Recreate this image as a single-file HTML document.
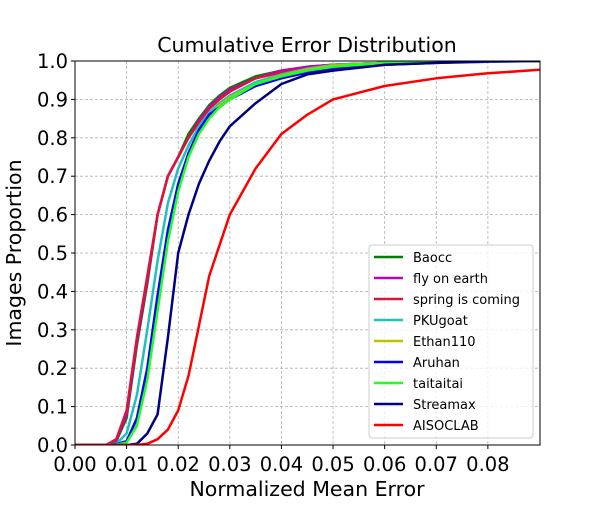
<!DOCTYPE html>
<html><head><meta charset="utf-8"><style>
body{margin:0;background:#fff}
svg text{font-family:"DejaVu Sans","Liberation Sans",sans-serif;fill:#000}
</style></head><body>
<svg width="600" height="500" id="c">
<rect width="600" height="500" fill="#fff"/>
<text x="307" y="52" font-size="20.5" text-anchor="middle">Cumulative Error Distribution</text>
<text x="307" y="496" font-size="20.5" text-anchor="middle">Normalized Mean Error</text>
<text x="21" y="253" font-size="20.5" text-anchor="middle" transform="rotate(-90 21 253)">Images Proportion</text>
<g id="grid"></g><g id="ticks"></g>
<defs><clipPath id="clip"><rect x="75" y="61" width="465" height="384"/></clipPath></defs>
<g id="lines" clip-path="url(#clip)"></g>
<rect x="75" y="61" width="465" height="384" fill="none" stroke="#000" stroke-width="1"/>
<g id="legend"></g>
</svg>
<script>
const xGrid=[0,0.006,0.008,0.010,0.012,0.014,0.016,0.018,0.020,0.022,0.024,0.026,0.028,0.030,0.035,0.040,0.045,0.050,0.060,0.070,0.080,0.090];
const seriesNames=["Baocc","fly on earth","spring is coming","PKUgoat","Ethan110","Aruhan","taitaitai","Streamax","AISOCLAB"];
const seriesColors=["#008000","#c000c0","#dc143c","#20c0c0","#c0c000","#0000ff","#20ff20","#000080","#ff0000"];
const baocc=[0,0,0.01,0.07,0.26,0.42,0.6,0.7,0.75,0.81,0.85,0.885,0.91,0.93,0.96,0.975,0.985,0.99,0.995,0.998,1,1];
const flyOnEarth=[0,0,0.012,0.08,0.27,0.43,0.6,0.7,0.75,0.8,0.845,0.88,0.905,0.925,0.955,0.975,0.985,0.99,0.995,0.998,1,1];
const springIsComing=[0,0,0.015,0.09,0.28,0.44,0.6,0.7,0.75,0.8,0.84,0.875,0.9,0.92,0.955,0.97,0.98,0.99,0.995,0.998,1,1];
const pkugoat=[0,0,0.003,0.03,0.13,0.3,0.48,0.63,0.72,0.78,0.83,0.865,0.89,0.91,0.945,0.965,0.98,0.99,0.995,0.998,1,1];
const ethan110=[0,0,0.001,0.008,0.06,0.18,0.37,0.55,0.67,0.76,0.815,0.855,0.885,0.905,0.94,0.962,0.978,0.988,0.995,0.998,1,1];
const aruhan=[0,0,0.002,0.01,0.07,0.2,0.39,0.56,0.68,0.76,0.82,0.86,0.88,0.9,0.935,0.955,0.97,0.98,0.99,0.995,0.998,1];
const taitaitai=[0,0,0.001,0.006,0.05,0.17,0.35,0.53,0.66,0.75,0.81,0.85,0.88,0.9,0.94,0.96,0.975,0.985,0.995,0.998,1,1];
const streamax=[0,0,0,0,0.003,0.03,0.08,0.28,0.5,0.6,0.68,0.74,0.79,0.83,0.89,0.94,0.965,0.975,0.99,0.995,1,1];
const aisoclab=[0,0,0,0,0,0.003,0.015,0.04,0.09,0.18,0.31,0.44,0.52,0.6,0.72,0.81,0.86,0.9,0.935,0.955,0.968,0.977];
const xTicks=["0.00","0.01","0.02","0.03","0.04","0.05","0.06","0.07","0.08"];
const yTicks=["0.0","0.1","0.2","0.3","0.4","0.5","0.6","0.7","0.8","0.9","1.0"];
const allSeries=[baocc,flyOnEarth,springIsComing,pkugoat,ethan110,aruhan,taitaitai,streamax,aisoclab];
const NS="http://www.w3.org/2000/svg";
const X0=75,X1=540,Y0=445,Y1=61,XMAX=0.0901;
const sx=v=>X0+v/XMAX*(X1-X0);
const sy=v=>Y0-v*(Y0-Y1);
function mk(tag,attrs,parent){const e=document.createElementNS(NS,tag);for(const k in attrs)e.setAttribute(k,attrs[k]);parent.appendChild(e);return e;}
const grid=document.getElementById('grid'),ticks=document.getElementById('ticks');
xTicks.forEach(t=>{const x=sx(parseFloat(t));
 const g=mk('line',{x1:x,x2:x,y1:Y1,y2:Y0,stroke:'#b0b0b0','stroke-width':0.8,'stroke-dasharray':'3,2'},grid);
 
 mk('line',{x1:x,x2:x,y1:Y0,y2:Y0+4,stroke:'#000'},ticks);
 const tx=mk('text',{x:x,y:Y0+26,'font-size':19.5,'text-anchor':'middle'},ticks);tx.textContent=t;
 });
yTicks.forEach(t=>{const y=sy(parseFloat(t));
 const g=mk('line',{x1:X0,x2:X1,y1:y,y2:y,stroke:'#b0b0b0','stroke-width':0.8,'stroke-dasharray':'3,2'},grid);
 
 mk('line',{x1:X0-4,x2:X0,y1:y,y2:y,stroke:'#000'},ticks);
 const tx=mk('text',{x:X0-7,y:y+7,'font-size':19.5,'text-anchor':'end'},ticks);tx.textContent=t;
 });
const lines=document.getElementById('lines');
allSeries.forEach((s,i)=>{const pts=s.map((v,j)=>sx(xGrid[j]).toFixed(1)+','+sy(v).toFixed(1)).join(' ');
 const p=mk('polyline',{points:pts,fill:'none',stroke:seriesColors[i],'stroke-width':2.5,'stroke-linejoin':'round'},lines);
 });
const lg=document.getElementById('legend');
const box=mk('rect',{x:369,y:245,width:164,height:193,rx:3,fill:'#fff','fill-opacity':0.8,stroke:'#ccc'},lg);

seriesNames.forEach((n,i)=>{const y=257+i*21;
 mk('line',{x1:374,x2:403,y1:y,y2:y,stroke:seriesColors[i],'stroke-width':2.5},lg);
 const t=mk('text',{x:413,y:y+5,'font-size':13},lg);t.textContent=n;
 });
</script>
</body></html>
